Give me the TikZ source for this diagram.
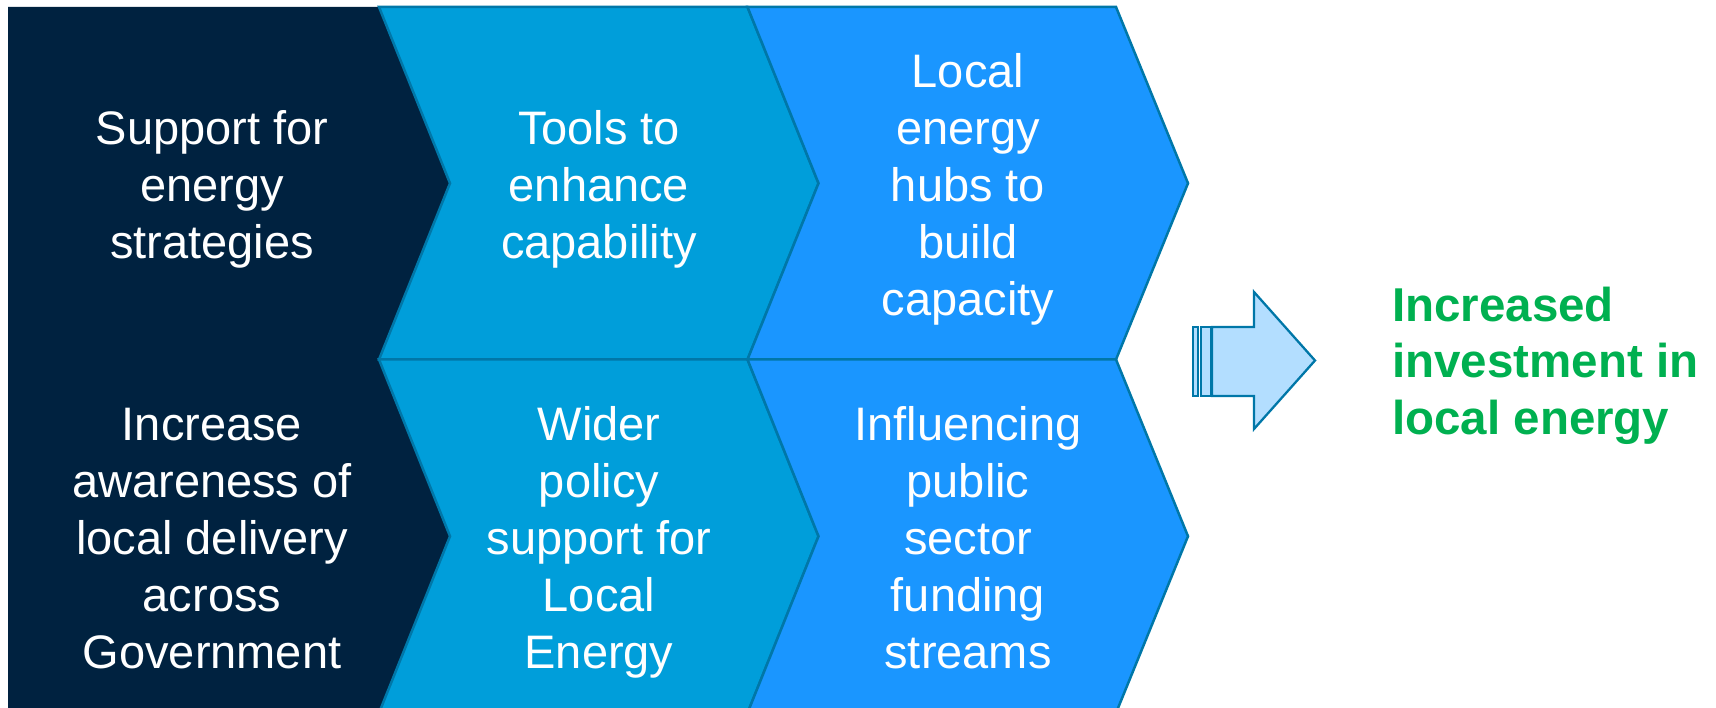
\documentclass[tikz,border=0pt]{standalone}
\usepackage{fontspec}
\setmainfont{Liberation Sans}
\definecolor{navy}{RGB}{0,34,64}
\definecolor{tealc}{RGB}{0,158,218}
\definecolor{brightc}{RGB}{26,150,255}
\definecolor{edgec}{RGB}{0,119,168}
\definecolor{arrowfill}{RGB}{179,222,255}
\definecolor{greenc}{RGB}{0,176,80}
\tikzset{
  darkchev/.style={fill=navy},
  tealchev/.style={fill=tealc, draw=edgec, line width=2.5pt},
  brightchev/.style={fill=brightc, draw=edgec, line width=2.5pt},
  lbl/.style={text=white, font=\fontsize{47}{57}\selectfont, align=center, inner sep=0pt},
  outcome/.style={text=greenc, font=\fontsize{47.5}{57}\selectfont\bfseries, align=left, inner sep=0pt, anchor=west},
  arrowpart/.style={fill=arrowfill, draw=edgec, line width=2.3pt}
}
\begin{document}
\begin{tikzpicture}[x=1pt,y=-1pt]
\useasboundingbox (0,0) rectangle (1716,708);
\begin{scope}
\clip (0,0) rectangle (1716,708);
% dark column as one shape (both rows)
\path[darkchev] (8,7) -- (379,7) -- (450,183.25) -- (379,359.5) -- (450,536.25) -- (379,713) -- (8,713) -- cycle;
\foreach \T/\B in {7/359.5, 359.5/713}{
  \pgfmathsetmacro{\M}{(\T+\B)/2}
  \path[tealchev] (379,\T) -- (747.5,\T) -- (818.5,\M) -- (747.5,\B) -- (379,\B) -- (450,\M) -- cycle;
  \path[brightchev] (747.5,\T) -- (1116,\T) -- (1188,\M) -- (1116,\B) -- (747.5,\B) -- (818.5,\M) -- cycle;
}
\end{scope}
% text, top row (mid 183.25), bottom row (mid 536.25)
\node[lbl] (a1) at (212,189.8) {\strut Support for\\energy\\strategies\strut};
\node[lbl] (a2) at (599,189.8) {\strut Tools to\\enhance\\capability\strut};
\node[lbl] (a3) at (968,189.8) {\strut Local\\energy\\hubs to\\build\\capacity\strut};
\node[lbl] (b1) at (212,542.8) {\strut Increase\\awareness of\\local delivery\\across\\Government\strut};
\node[lbl] (b2) at (599,542.8) {\strut Wider\\policy\\support for\\Local\\Energy\strut};
\node[lbl] (b3) at (968,542.8) {\strut Influencing\\public\\sector\\funding\\streams\strut};
% striped arrow
\path[arrowpart] (1193,327) rectangle (1198,396);
\path[arrowpart] (1201,327) rectangle (1211,396);
\path[arrowpart] (1212,327) -- (1254,327) -- (1254,292) -- (1315,360.5) -- (1254,429) -- (1254,396) -- (1212,396) -- cycle;
% outcome
\node[outcome] (out) at (1392,366.6) {\strut Increased\\investment in\\local energy\strut};
\end{tikzpicture}
\end{document}
